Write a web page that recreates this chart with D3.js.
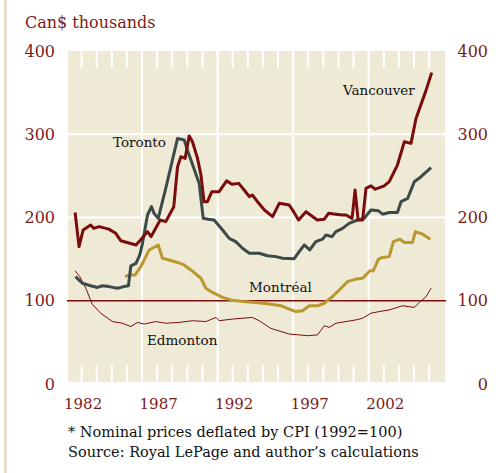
<!DOCTYPE html>
<html>
<head>
<meta charset="utf-8">
<script src="https://cdn.jsdelivr.net/npm/d3@7"></script>
<style>
  body { margin: 0; background: #fff; }
  text { font-family: "DejaVu Serif", serif; }
</style>
</head>
<body>
<svg id="chart"></svg>
<script>
// y ticks and year labels
let yTicks = [0, 100, 200, 300, 400];
let yearLabels = [1982, 1987, 1992, 1997, 2002];
let majorYears = [1986, 1991, 1996, 2001];
let minorYears = d3.range(1982, 2006);

// house prices, Can$ thousands (deflated)
let vanYears = [1981.57, 1981.83, 1982.1, 1982.6, 1982.8, 1983.16, 1983.8, 1984.26, 1984.6, 1985.6, 1985.9, 1986.36, 1986.6, 1987.2, 1987.57, 1988.1, 1988.35, 1988.57, 1988.85, 1989.12, 1989.34, 1989.67, 1989.9, 1990.1, 1990.33, 1990.62, 1991.1, 1991.6, 1991.95, 1992.4, 1992.76, 1993.1, 1993.3, 1993.64, 1994.1, 1994.64, 1995.08, 1995.74, 1996.03, 1996.36, 1996.85, 1997.6, 1998.06, 1998.34, 1998.83, 1999.27, 1999.5, 1999.9, 2000.1, 2000.3, 2000.6, 2000.82, 2001.15, 2001.44, 2002.03, 2002.36, 2002.9, 2003.36, 2003.8, 2004.13, 2004.8, 2005.17];
let vanValues = [206, 165, 185, 191, 187, 189, 186, 181, 172, 167, 173, 183, 177, 197, 195, 213, 261, 273, 271, 298, 291, 271, 251, 219, 219, 231, 231, 244, 240, 241, 233, 225, 227, 219, 209, 201, 217, 215, 207, 197, 207, 197, 198, 205, 204, 203, 203, 199, 233, 197, 197, 235, 238, 234, 238, 243, 263, 291, 289, 319, 353, 374];

let torYears = [1981.6, 1982.05, 1982.6, 1983.05, 1983.38, 1983.82, 1984.37, 1984.8, 1985.1, 1985.26, 1985.6, 1985.85, 1986.03, 1986.36, 1986.62, 1986.8, 1987.07, 1987.57, 1988.35, 1988.79, 1989.0, 1989.78, 1990.05, 1990.38, 1990.77, 1991.33, 1991.77, 1992.2, 1992.65, 1993.1, 1993.75, 1994.3, 1994.86, 1995.3, 1996.07, 1996.4, 1996.74, 1997.1, 1997.5, 1997.95, 1998.17, 1998.57, 1998.83, 1999.27, 1999.7, 2000.26, 2000.7, 2001.15, 2001.65, 2001.92, 2002.36, 2002.9, 2003.14, 2003.58, 2004.02, 2004.46, 2005.13];
let torValues = [129, 121, 118, 116, 118, 117, 115, 117, 118, 142, 145, 155, 169, 203, 213, 205, 199, 235, 295, 293, 281, 241, 199, 198, 197, 185, 175, 171, 163, 157, 157, 154, 153, 151, 150.5, 159, 167, 161, 171, 174, 179, 177, 183, 187, 193, 197, 199, 209, 208, 204, 206, 206, 219, 223, 243, 249, 260];

let monYears = [1984.88, 1985.15, 1985.54, 1985.92, 1986.47, 1987.07, 1987.35, 1987.8, 1988.35, 1988.79, 1989.23, 1989.9, 1990.22, 1990.66, 1991.33, 1991.88, 1992.65, 1993.54, 1994.42, 1995.2, 1995.74, 1996.19, 1996.62, 1997.07, 1997.62, 1998.06, 1998.6, 1999.17, 1999.6, 2000.16, 2000.6, 2001.08, 2001.3, 2001.65, 2001.92, 2002.36, 2002.63, 2003.07, 2003.36, 2003.9, 2004.09, 2004.57, 2005.08];
let monValues = [129, 131, 131, 141, 161, 167, 151, 149, 146, 143, 137, 127, 115, 110, 104, 101, 99, 98, 96, 94, 90, 87, 88, 94, 94, 97, 105, 115, 123, 126, 127, 136, 136, 150, 152, 153, 171, 174, 170, 170, 183, 180, 174];

let edmYears = [1981.57, 1981.88, 1982.28, 1982.7, 1983.27, 1984.04, 1984.7, 1985.26, 1985.7, 1986.14, 1986.91, 1987.57, 1988.46, 1989.34, 1990.22, 1990.9, 1991.1, 1991.99, 1993.3, 1993.75, 1994.5, 1995.2, 1995.74, 1996.4, 1996.95, 1997.62, 1998.06, 1998.39, 1998.83, 1999.5, 2000.16, 2000.6, 2001.15, 2001.7, 2002.36, 2003.24, 2004.02, 2004.35, 2004.8, 2005.13];
let edmValues = [136, 129, 115, 96, 85, 75, 73, 69, 74, 72, 75, 73, 74, 76, 75, 80, 76, 78, 80, 76, 67, 63, 60, 59, 58, 59, 70, 68, 73, 75, 77, 79, 85, 87, 89, 94, 92, 98, 105, 115];

let darkRed = "#7a0c0c";
let labelRed = "#7b1a1a";
let bgColor = "#efead6";

let W = 504, H = 473;
let plot = {left: 68, right: 445, top: 51, bottom: 382};

let svg = d3.select("#chart")
    .attr("width", W)
    .attr("height", H);

// decorative bar at the left edge
svg.append("rect")
    .attr("x", 4).attr("y", 0)
    .attr("width", 2.5).attr("height", H)
    .style("fill", "#e6dcb8");

let x = d3.scaleLinear()
    .domain([1981.1, 2006.05])
    .range([plot.left, plot.right]);
let y = d3.scaleLinear()
    .domain([0, 400])
    .range([384, 51]);

svg.append("rect")
    .attr("x", plot.left)
    .attr("y", plot.top)
    .attr("width", plot.right - plot.left)
    .attr("height", plot.bottom - plot.top)
    .style("fill", bgColor);

// white grid
let grid = svg.append("g").attr("stroke", "#fff").attr("stroke-width", 2);
grid.selectAll(".hg").data([200, 300]).enter()
    .append("line")
    .attr("x1", plot.left).attr("x2", plot.right)
    .attr("y1", d => y(d)).attr("y2", d => y(d));
grid.selectAll(".vg").data(majorYears).enter()
    .append("line")
    .attr("x1", d => x(d)).attr("x2", d => x(d))
    .attr("y1", plot.top).attr("y2", plot.bottom);
grid.selectAll(".mt").data(minorYears).enter()
    .append("line")
    .attr("x1", d => x(d)).attr("x2", d => x(d))
    .attr("y1", plot.top).attr("y2", plot.top + 17);
grid.selectAll(".mb").data(minorYears).enter()
    .append("line")
    .attr("x1", d => x(d)).attr("x2", d => x(d))
    .attr("y1", plot.bottom - 17).attr("y2", plot.bottom);

// the 100 line
svg.append("line")
    .attr("x1", plot.left - 1).attr("x2", plot.right + 1)
    .attr("y1", y(100)).attr("y2", y(100))
    .attr("stroke", darkRed)
    .attr("stroke-width", 1.5);

// axes
let leftAxis = d3.axisLeft(y).tickValues(yTicks).tickSize(0).tickPadding(0);
svg.append("g")
    .attr("transform", "translate(55,0)")
    .call(leftAxis)
    .call(g => g.select(".domain").remove())
    .selectAll("text")
    .attr("font-family", "DejaVu Serif")
    .attr("font-size", 16)
    .attr("fill", labelRed);

let rightAxis = d3.axisRight(y).tickValues(yTicks).tickSize(0).tickPadding(0);
svg.append("g")
    .attr("transform", "translate(488,0)")
    .call(rightAxis)
    .call(g => g.select(".domain").remove())
    .selectAll("text")
    .attr("text-anchor", "end")
    .attr("font-family", "DejaVu Serif")
    .attr("font-size", 16)
    .attr("fill", labelRed);

let bottomAxis = d3.axisBottom(x).tickValues(yearLabels).tickFormat(d3.format("d")).tickSize(0).tickPadding(0);
svg.append("g")
    .attr("transform", "translate(1,398)")
    .call(bottomAxis)
    .call(g => g.select(".domain").remove())
    .selectAll("text")
    .attr("font-family", "DejaVu Serif")
    .attr("font-size", 15)
    .attr("fill", labelRed);

// series
function drawSeries(years, values, color, width) {
    let pts = years.map((d, i) => [d, values[i]]);
    let line = d3.line()
        .x(d => x(d[0]))
        .y(d => y(d[1]));
    svg.append("path")
        .datum(pts)
        .attr("d", line)
        .attr("fill", "none")
        .attr("stroke", color)
        .attr("stroke-width", width)
        .attr("stroke-linejoin", "round");
}
drawSeries(edmYears, edmValues, darkRed, 1);
drawSeries(monYears, monValues, "#b8982f", 3);
drawSeries(torYears, torValues, "#3c4a49", 3);
drawSeries(vanYears, vanValues, darkRed, 3);

// series labels
let labels = [
    {t: "Vancouver", x: 343, y: 95},
    {t: "Toronto", x: 113, y: 147},
    {t: "Montréal", x: 249, y: 292},
    {t: "Edmonton", x: 147, y: 345}
];
svg.selectAll(".lab").data(labels).enter()
    .append("text")
    .attr("x", d => d.x).attr("y", d => d.y)
    .attr("font-size", 13.5)
    .attr("fill", "#111")
    .text(d => d.t);

// title and notes
svg.append("text")
    .attr("x", 25).attr("y", 28)
    .attr("font-size", 16)
    .attr("fill", labelRed)
    .text("Can$ thousands");

svg.append("text")
    .attr("x", 68).attr("y", 437)
    .attr("font-size", 14.5)
    .attr("fill", "#111")
    .text("* Nominal prices deflated by CPI (1992=100)");
svg.append("text")
    .attr("x", 68).attr("y", 457)
    .attr("font-size", 14.5)
    .attr("fill", "#111")
    .text("Source: Royal LePage and author’s calculations");
</script>
</body>
</html>
